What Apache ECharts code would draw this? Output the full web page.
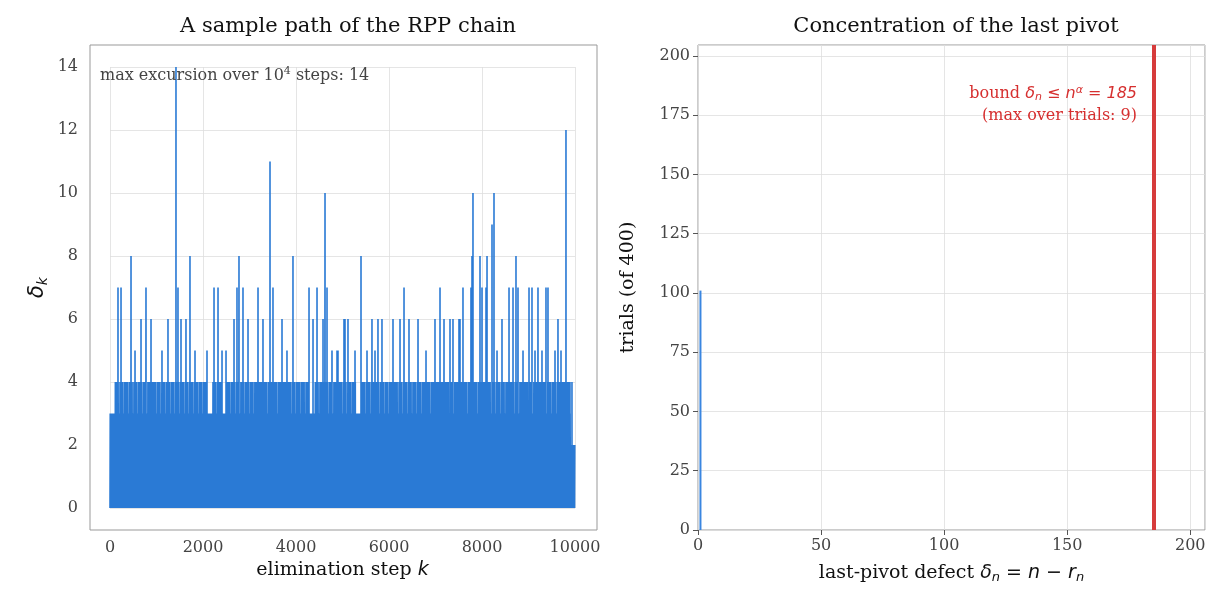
<!DOCTYPE html>
<html><head><meta charset="utf-8">
<script src="https://cdn.jsdelivr.net/npm/echarts@6/dist/echarts.min.js"></script>
<style>html,body{margin:0;padding:0;background:#fff}#c{width:1222px;height:614px}</style>
</head><body><div id="c"></div>
<script>
// Peaks: [step k, delta_k]
const peaks = [[172,7],[237,7],[452,8],[538,5],[667,6],[774,7],[882,6],[1118,5],[1247,6],[1419,14],[1462,7],[1527,6],[1634,6],[1720,8],[1828,5],[2086,5],[2237,7],[2323,7],[2409,5],[2495,5],[2667,6],[2731,7],[2774,8],[2860,7],[2968,6],[3183,7],[3290,6],[3441,11],[3505,7],[3699,6],[3806,5],[3935,8],[4280,7],[4366,6],[4452,7],[4581,6],[4624,10],[4667,7],[4774,5],[4882,5],[4903,5],[5032,6],[5054,6],[5118,6],[5269,5],[5398,8],[5527,5],[5634,6],[5699,5],[5763,6],[5849,6],[6086,6],[6237,6],[6323,7],[6430,6],[6624,6],[6796,5],[6989,6],[7097,7],[7183,6],[7312,6],[7376,6],[7505,6],[7527,6],[7591,7],[7763,7],[7785,8],[7806,10],[7957,8],[8000,7],[8086,7],[8108,8],[8215,9],[8258,10],[8323,5],[8430,6],[8581,7],[8667,7],[8731,8],[8774,7],[8882,5],[9011,7],[9075,7],[9140,5],[9204,7],[9290,5],[9376,7],[9419,7],[9570,5],[9634,6],[9699,5],[9806,12],[9892,4],[9935,4]];
// Envelope of the dense background, per 100-step bin
const envelope = [3,4,4,4,4,4,4,4,4,4, 4,4,4,4,4,4,4,4,4,4, 4,3,4,4,3,4,4,4,4,4, 4,4,4,4,4,4,4,4,4,4, 4,4,4,3,4,4,4,4,4,4, 4,4,4,3,4,4,4,4,4,4, 4,4,4,4,4,4,4,4,4,4, 4,4,4,4,4,4,4,4,4,4, 4,4,4,4,4,4,4,4,4,4, 4,4,4,4,4,4,4,4,4,2];
// Histogram of last-pivot defect
const histBins = [1];
const histCounts = [101];
const bound = 185;

const pts = [];
envelope.forEach((e,b)=>{
  for(let j=0;j<10;j++){
    const k=b*100+j*10;
    pts.push([k,0]);
    pts.push([k+5, j%3===1 ? e : Math.min(3,e)]);
  }
});
peaks.forEach(p=>{pts.push([p[0]-1,0]);pts.push([p[0],p[1]]);pts.push([p[0]+1,0]);});
pts.sort((a,b)=>a[0]-b[0]);
const lineData = pts.filter(p=>p[0]>=0&&p[0]<=9999);

const F='DejaVu Serif';
const gridLine={show:true,lineStyle:{color:'#dedede',width:0.8}};
const tick={show:true,length:5,lineStyle:{color:'#555'}};
const lab={color:'#444',fontFamily:F,fontSize:16,formatter:v=>String(v)};
const chart=echarts.init(document.getElementById('c'));
chart.setOption({
  animation:false,
  title:[
    {text:'A sample path of the RPP chain',left:343,top:11,textAlign:'center',textStyle:{fontFamily:F,fontSize:21,fontWeight:'normal',color:'#111'}},
    {text:'Concentration of the last pivot',left:951,top:11,textAlign:'center',textStyle:{fontFamily:F,fontSize:21,fontWeight:'normal',color:'#111'}}
  ],
  grid:[
    {left:110,right:647,top:67,bottom:106},
    {left:698,right:17,top:45,bottom:84,show:true,borderColor:'#999',borderWidth:1}
  ],
  xAxis:[
    {gridIndex:0,type:'value',min:0,max:10000,interval:2000,offset:22,axisLine:{show:false},axisTick:{show:false},splitLine:gridLine,axisLabel:Object.assign({},lab,{margin:10}),
     name:'elimination step {i|k}',nameLocation:'middle',nameGap:30,nameTextStyle:{fontFamily:F,fontSize:19,color:'#111',rich:{i:{fontStyle:'italic',fontFamily:'DejaVu Sans',fontSize:19}}}},
    {gridIndex:1,type:'value',min:0,max:206,interval:50,axisLine:{show:false},axisTick:tick,splitLine:gridLine,axisLabel:Object.assign({showMaxLabel:false},lab),
     name:'last-pivot defect {i|δ}{s|n}{i| = n − r}{s|n}',nameLocation:'middle',nameGap:33,nameTextStyle:{fontFamily:F,fontSize:19,color:'#111',rich:{i:{fontStyle:'italic',fontFamily:'DejaVu Sans',fontSize:19},s:{fontStyle:'italic',fontFamily:'DejaVu Sans',fontSize:13,padding:[8,0,0,0]}}}}
  ],
  yAxis:[
    {gridIndex:0,type:'value',min:0,max:14,interval:2,offset:20,axisLine:{show:false},axisTick:{show:false},splitLine:gridLine,axisLabel:Object.assign({},lab,{margin:12}),
     name:'{i|δ}{s|k}',nameLocation:'middle',nameGap:40,nameTextStyle:{rich:{i:{fontStyle:'italic',fontFamily:'DejaVu Sans',fontSize:21,color:'#111'},s:{fontStyle:'italic',fontFamily:'DejaVu Sans',fontSize:14,color:'#111',padding:[10,0,0,0]}}}},
    {gridIndex:1,type:'value',min:0,max:204.6,interval:25,axisLine:{show:false},axisTick:tick,splitLine:gridLine,axisLabel:Object.assign({showMaxLabel:false},lab),
     name:'trials (of 400)',nameLocation:'middle',nameGap:60,nameTextStyle:{fontFamily:F,fontSize:19,color:'#111'}}
  ],
  graphic:[
    {type:'rect',shape:{x:90,y:45,width:507,height:485},style:{fill:null,stroke:'#999',lineWidth:1},z:10},
    {type:'text',left:100,top:66,style:{text:'max excursion over 10{s|4} steps: 14',font:'16px "DejaVu Serif"',fill:'#444',rich:{s:{fontSize:11,padding:[0,0,9,0],fill:'#444',fontFamily:F}}},z:11},
    {type:'text',right:85,top:85,style:{text:'bound {i|δ}{s|n}{i| ≤ n}{u|α}{i| = 185}',align:'right',font:'16px "DejaVu Serif"',fill:'#d62f2f',rich:{i:{fontStyle:'italic',fontFamily:'DejaVu Sans',fontSize:16,fill:'#d62f2f'},s:{fontStyle:'italic',fontFamily:'DejaVu Sans',fontSize:11,fill:'#d62f2f',padding:[7,0,0,0]},u:{fontStyle:'italic',fontFamily:'DejaVu Sans',fontSize:11,fill:'#d62f2f',padding:[0,0,7,0]}}},z:11},
    {type:'text',right:85,top:108,style:{text:'(max over trials: 9)',align:'right',font:'16px "DejaVu Serif"',fill:'#d62f2f'},z:11}
  ],
  series:[
    {type:'line',xAxisIndex:0,yAxisIndex:0,data:lineData,showSymbol:false,lineStyle:{color:'#2a7ad5',width:1.6},itemStyle:{color:'#2a7ad5'},z:2},
    {type:'bar',xAxisIndex:1,yAxisIndex:1,data:histBins.map((b,i)=>[b,histCounts[i]]),barWidth:2,itemStyle:{color:'#3a86e0'},
     markLine:{symbol:'none',silent:true,label:{show:false},lineStyle:{color:'#d63b3b',width:4,type:'solid'},data:[{xAxis:bound}]}}
  ]
});
</script></body></html>
